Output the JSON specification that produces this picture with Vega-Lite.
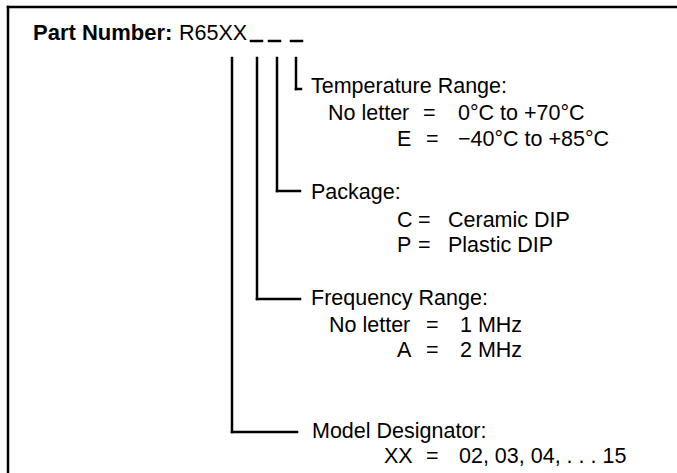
{
  "$schema": "https://vega.github.io/schema/vega-lite/v6.json",
  "width": 677,
  "height": 473,
  "padding": 0,
  "autosize": {"type": "none"},
  "background": "white",
  "config": {"view": {"stroke": null}},
  "datasets": {
    "lines": [
      {"x": 8, "y": 7, "x2": 677, "y2": 7, "kind": "border"},
      {"x": 8, "y": 7, "x2": 8, "y2": 473, "kind": "border"},
      {"x": 251, "y": 41, "x2": 262, "y2": 41, "kind": "blank"},
      {"x": 269, "y": 41, "x2": 280, "y2": 41, "kind": "blank"},
      {"x": 291, "y": 41, "x2": 302, "y2": 41, "kind": "blank"},
      {"x": 296, "y": 58, "x2": 296, "y2": 89, "kind": "leader"},
      {"x": 296, "y": 89, "x2": 301, "y2": 89, "kind": "leader"},
      {"x": 277, "y": 58, "x2": 277, "y2": 191, "kind": "leader"},
      {"x": 277, "y": 191, "x2": 300, "y2": 191, "kind": "leader"},
      {"x": 257, "y": 58, "x2": 257, "y2": 299, "kind": "leader"},
      {"x": 257, "y": 299, "x2": 300, "y2": 299, "kind": "leader"},
      {"x": 232, "y": 58, "x2": 232, "y2": 432, "kind": "leader"},
      {"x": 232, "y": 432, "x2": 297, "y2": 432, "kind": "leader"}
    ],
    "labels": [
      {"x": 33, "y": 40, "t": "Part Number:", "kind": "title"},
      {"x": 179, "y": 40, "t": "R65XX", "kind": "text"},
      {"x": 311, "y": 93, "t": "Temperature Range:", "kind": "text"},
      {"x": 328, "y": 120, "t": "No letter", "kind": "text"},
      {"x": 423, "y": 120, "t": "=", "kind": "text"},
      {"x": 458, "y": 120, "t": "0°C to +70°C", "kind": "text"},
      {"x": 397, "y": 146, "t": "E", "kind": "text"},
      {"x": 426, "y": 146, "t": "=", "kind": "text"},
      {"x": 458, "y": 146, "t": "−40°C to +85°C", "kind": "text"},
      {"x": 311, "y": 199, "t": "Package:", "kind": "text"},
      {"x": 397, "y": 227, "t": "C", "kind": "text"},
      {"x": 418, "y": 227, "t": "=", "kind": "text"},
      {"x": 448, "y": 227, "t": "Ceramic DIP", "kind": "text"},
      {"x": 397, "y": 252, "t": "P", "kind": "text"},
      {"x": 418, "y": 252, "t": "=", "kind": "text"},
      {"x": 448, "y": 252, "t": "Plastic DIP", "kind": "text"},
      {"x": 311, "y": 305, "t": "Frequency Range:", "kind": "text"},
      {"x": 329, "y": 332, "t": "No letter", "kind": "text"},
      {"x": 426, "y": 332, "t": "=", "kind": "text"},
      {"x": 460, "y": 332, "t": "1 MHz", "kind": "text"},
      {"x": 397, "y": 357, "t": "A", "kind": "text"},
      {"x": 426, "y": 357, "t": "=", "kind": "text"},
      {"x": 460, "y": 357, "t": "2 MHz", "kind": "text"},
      {"x": 312, "y": 438, "t": "Model Designator:", "kind": "text"},
      {"x": 384, "y": 463, "t": "XX", "kind": "text"},
      {"x": 426, "y": 463, "t": "=", "kind": "text"},
      {"x": 459, "y": 463, "t": "02, 03, 04, . . . 15", "kind": "text"}
    ]
  },
  "layer": [
    {
      "data": {"name": "lines"},
      "mark": {"type": "rule", "color": "black", "strokeWidth": 2.5, "strokeCap": "square"},
      "encoding": {
        "x": {"field": "x", "type": "quantitative", "scale": {"domain": [0, 677]}, "axis": null},
        "y": {"field": "y", "type": "quantitative", "scale": {"domain": [473, 0]}, "axis": null},
        "x2": {"field": "x2"},
        "y2": {"field": "y2"}
      }
    },
    {
      "data": {"name": "labels"},
      "transform": [{"filter": "datum.kind === 'text'"}],
      "mark": {"type": "text", "align": "left", "baseline": "alphabetic", "font": "Liberation Sans", "fontSize": 21.5, "color": "black"},
      "encoding": {
        "x": {"field": "x", "type": "quantitative", "scale": {"domain": [0, 677]}, "axis": null},
        "y": {"field": "y", "type": "quantitative", "scale": {"domain": [473, 0]}, "axis": null},
        "text": {"field": "t"}
      }
    },
    {
      "data": {"name": "labels"},
      "transform": [{"filter": "datum.kind === 'title'"}],
      "mark": {"type": "text", "align": "left", "baseline": "alphabetic", "font": "Liberation Sans", "fontSize": 22, "fontWeight": "bold", "color": "black"},
      "encoding": {
        "x": {"field": "x", "type": "quantitative", "scale": {"domain": [0, 677]}, "axis": null},
        "y": {"field": "y", "type": "quantitative", "scale": {"domain": [473, 0]}, "axis": null},
        "text": {"field": "t"}
      }
    }
  ]
}
